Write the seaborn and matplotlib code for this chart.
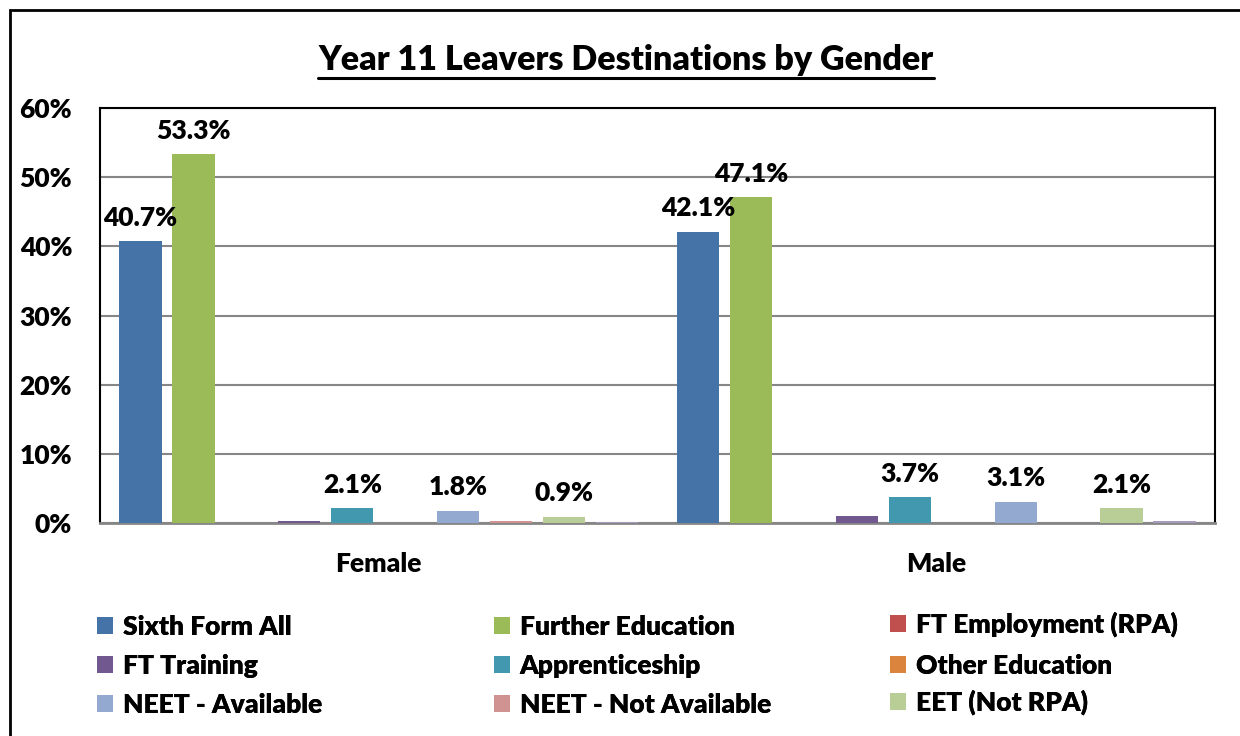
import matplotlib
matplotlib.use("Agg")
import matplotlib.pyplot as plt
import seaborn as sns
import pandas as pd
from matplotlib.ticker import FuncFormatter, FixedLocator
from matplotlib.patches import Rectangle, Patch
from matplotlib.lines import Line2D

# ---- data ----
genders = ["Female", "Male"]
destinations = ["Sixth Form All", "Further Education", "FT Employment (RPA)",
                "FT Training", "Apprenticeship", "Other Education",
                "NEET - Available", "NEET - Not Available", "EET (Not RPA)",
                "Not Known"]
female_values = [40.7, 53.3, 0.0, 0.25, 2.1, 0.0, 1.8, 0.35, 0.9, 0.2]
male_values = [42.1, 47.1, 0.0, 1.0, 3.7, 0.0, 3.1, 0.05, 2.1, 0.35]
labelled = ["Sixth Form All", "Further Education", "Apprenticeship",
            "NEET - Available", "EET (Not RPA)"]
colors = ["#4572A7", "#9BBB59", "#C0504D", "#71588F", "#4198AF",
          "#DB843D", "#93A9CF", "#D19392", "#B9CD96", "#A99BBD"]
y_ticks = [0, 10, 20, 30, 40, 50, 60]
title = "Year 11 Leavers Destinations by Gender"

rows = []
for g, vals in zip(genders, [female_values, male_values]):
    for d, v in zip(destinations, vals):
        rows.append({"Gender": g, "Destination": d, "Value": v / 100})
df = pd.DataFrame(rows)

sns.set_theme(style="white")
WT = "heavy"
plt.rcParams["font.family"] = ["Lato", "DejaVu Sans"]
plt.rcParams["font.weight"] = WT
plt.rcParams["text.color"] = "black"
plt.rcParams["xtick.color"] = "black"
plt.rcParams["ytick.color"] = "black"

FS = 19

W, H = 1240, 736
fig = plt.figure(figsize=(W / 100, H / 100), dpi=100)
ax = fig.add_axes([100 / W, 1 - 523 / H, 1115 / W, 415 / H])

sns.barplot(data=df, x="Gender", y="Value", hue="Destination",
            order=genders, hue_order=destinations, palette=colors,
            width=0.95, gap=0.2, linewidth=0, saturation=1,
            errorbar=None, legend=False, ax=ax, zorder=3)

ax.set_xlim(-0.5, 1.5)
ax.set_ylim(0, 0.6)
ax.yaxis.set_major_locator(FixedLocator([t / 100 for t in y_ticks]))
ax.yaxis.set_major_formatter(FuncFormatter(lambda v, p: f"{v*100:.0f}%"))
ax.grid(axis="y", color="#868686", linewidth=1.5, zorder=0)
ax.set_axisbelow(True)
ax.tick_params(axis="y", length=0, pad=20, labelsize=FS, labelcolor="black")
ax.tick_params(axis="x", which="major", length=0, pad=21, labelsize=FS,
               labelcolor="black")
ax.set_xticks([-0.5, 0.5, 1.5], minor=True)
ax.tick_params(axis="x", which="minor", length=7, width=1.5, color="#868686")
for lab in ax.get_xticklabels() + ax.get_yticklabels():
    lab.set_fontweight(WT)
ax.set_xlabel("")
ax.set_ylabel("")
for s in ["top", "left", "right"]:
    ax.spines[s].set_color("black")
    ax.spines[s].set_linewidth(1.5)
ax.spines["bottom"].set_color("#868686")
ax.spines["bottom"].set_linewidth(2)

# data labels
for cont, dest in zip(ax.containers, destinations):
    if dest not in labelled:
        continue
    for bar in cont:
        h = bar.get_height()
        ax.annotate(f"{h*100:.1f}%", (bar.get_x() + bar.get_width() / 2, h),
                    xytext=(0, 17), textcoords="offset points",
                    ha="center", va="center", fontsize=FS, fontweight=WT,
                    color="black", zorder=5)

# title with underline
t = fig.text(626 / W, 1 - 60 / H, title, ha="center", va="center",
             fontsize=24.5, fontweight=WT, color="black")
fig.canvas.draw()
bb = t.get_window_extent().transformed(fig.transFigure.inverted())
fig.add_artist(Line2D([bb.x0, bb.x1], [1 - 78 / H, 1 - 78 / H],
                      color="black", linewidth=2.2, transform=fig.transFigure))

# legend: 3x3 grid, row-major order, 9 entries, each placed at a fixed spot
col_x = [97, 494, 890]
row_y = [627, 666, 705]
for i in range(9):
    r, c = divmod(i, 3)
    adj = -2.5 if "(" in destinations[i] else 0
    lg = fig.legend([Patch(facecolor=colors[i], edgecolor="none")],
                    [destinations[i]],
                    loc="center left",
                    bbox_to_anchor=(col_x[c] / W, 1 - (row_y[r] + adj) / H),
                    frameon=False, borderpad=0, borderaxespad=0,
                    prop={"size": FS, "weight": WT},
                    handlelength=0.62, handleheight=0.62, handletextpad=0.35)
    fig.add_artist(lg)

# outer chart frame
fig.add_artist(Rectangle((10 / W, -0.05), 1.2, 1 - 10 / H + 0.05,
                         transform=fig.transFigure, fill=False,
                         edgecolor="black", linewidth=2))

fig.savefig("out.png", dpi=100)
